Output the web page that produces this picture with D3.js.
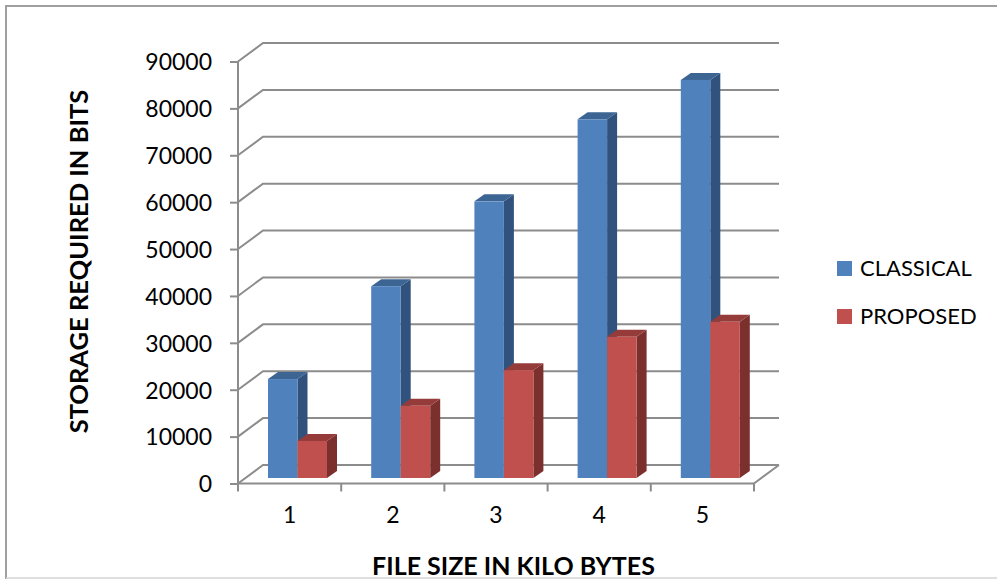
<!DOCTYPE html>
<html>
<head>
<meta charset="utf-8">
<script src="https://cdnjs.cloudflare.com/ajax/libs/d3/7.8.5/d3.min.js"></script>
<style>
body { margin: 0; background: #fff; }
text { font-family: Lato, "Open Sans", sans-serif; fill: #000; }
.axis path, .axis line { stroke: #8c8c8c; stroke-width: 2; }
.axis text { font-size: 23px; }
.grid { stroke: #8c8c8c; stroke-width: 2; fill: none; }
.axis-label { font-weight: bold; text-anchor: middle; }
.legend-label { font-size: 22px; }
</style>
</head>
<body>
<div id="chart"></div>
<script>
//Chart values
let categories = ['1', '2', '3', '4', '5'];
let series_names = ['CLASSICAL', 'PROPOSED'];
let classical = [21100, 40900, 59000, 76500, 84900];
let proposed = [7900, 15400, 23000, 30100, 33300];
let y_ticks = [0, 10000, 20000, 30000, 40000, 50000, 60000, 70000, 80000, 90000];

let width = 997, height = 579;
//Front corner of the floor and the oblique shift of the back wall
let plot = {left: 238, right: 754, bottom: 483.5, top: 61.5, depth_x: 25, depth_y: -18.5};
//Where the bars stand in the floor depth, and the shift of their own side face
let bar_floor = -5.5;
let bar_depth = {x: 10, y: -7};
let colors = {
    CLASSICAL: {front: '#4f81bd', side: '#31527c', top: '#3d6594'},
    PROPOSED: {front: '#c0504d', side: '#7b302e', top: '#953c3a'}
};

let svg = d3.select('#chart').append('svg').attr('width', width).attr('height', height)
    .style('display', 'block');

//Outer frame of the chart area, it runs off the right side of the picture
svg.append('path').attr('d', 'M' + width + ',6H6V' + height).attr('fill', 'none')
    .attr('stroke', '#a0a0a0').attr('stroke-width', 2);
svg.append('line').attr('x1', 6).attr('x2', width).attr('y1', 578).attr('y2', 578)
    .attr('stroke', '#d4d4d4').attr('stroke-width', 1.5);

let x = d3.scaleBand().domain(categories).range([plot.left, plot.right]);
let y = d3.scaleLinear().domain([0, 90000]).range([plot.bottom, plot.top]);
//Bars take a part of each category band
let x_inner = d3.scaleBand().domain(series_names).range([30, 89]);

//Back wall gridlines plus the oblique piece down to the front axis
y_ticks.forEach(t => {
    svg.append('path').attr('class', 'grid').attr('d', d3.line()([
        [plot.left, y(t)],
        [plot.left + plot.depth_x, y(t) + plot.depth_y],
        [plot.right + plot.depth_x, y(t) + plot.depth_y]
    ]));
});
//Right edge of the floor
svg.append('path').attr('class', 'grid').attr('d', d3.line()([
    [plot.right, y(0)],
    [plot.right + plot.depth_x, y(0) + plot.depth_y]
]));

svg.append('g').attr('class', 'axis').attr('transform', 'translate(' + plot.left + ',0)')
    .call(d3.axisLeft(y).tickValues(y_ticks).tickFormat(d3.format('d')).tickSize(8).tickPadding(18))
    .call(g => g.select('.domain').attr('d', 'M0,' + y(90000) + 'V' + y(0)))
    .call(g => g.selectAll('.tick text').attr('dy', '0.36em'));

svg.append('g').attr('class', 'axis').attr('transform', 'translate(0,' + plot.bottom + ')')
    .call(d3.axisBottom(x).tickSize(0).tickPadding(23))
    .call(g => g.select('.domain').attr('d', 'M' + plot.left + ',0H' + plot.right))
    .call(g => g.selectAll('.tick line').remove());

//Tick marks sit between the categories
svg.selectAll('.x-tick').data(categories.concat(['end'])).enter().append('line')
    .attr('class', 'x-tick')
    .attr('x1', (d, i) => plot.left + i * x.step())
    .attr('x2', (d, i) => plot.left + i * x.step())
    .attr('y1', plot.bottom).attr('y2', plot.bottom + 8)
    .attr('stroke', '#8c8c8c').attr('stroke-width', 2);

//Draw the bars: classical first so that the proposed front face covers its side
let bar_data = [];
series_names.forEach((s, si) => {
    let values = si === 0 ? classical : proposed;
    categories.forEach((c, i) => bar_data.push({series: s, category: c, value: values[i]}));
});
let bars = svg.selectAll('.bar').data(bar_data).enter().append('g').attr('class', 'bar')
    .attr('transform', d => 'translate(' + (x(d.category) + x_inner(d.series)) + ',' + bar_floor + ')');
bars.append('path').attr('fill', d => colors[d.series].side).attr('d', d => {
    let w = x_inner.bandwidth();
    return d3.line()([[w, y(d.value)], [w + bar_depth.x, y(d.value) + bar_depth.y],
        [w + bar_depth.x, y(0) + bar_depth.y], [w, y(0)]]) + 'Z';
});
bars.append('path').attr('fill', d => colors[d.series].top).attr('d', d => {
    let w = x_inner.bandwidth();
    return d3.line()([[0, y(d.value)], [bar_depth.x, y(d.value) + bar_depth.y],
        [w + bar_depth.x, y(d.value) + bar_depth.y], [w, y(d.value)]]) + 'Z';
});
bars.append('rect').attr('fill', d => colors[d.series].front)
    .attr('y', d => y(d.value)).attr('width', x_inner.bandwidth())
    .attr('height', d => y(0) - y(d.value));

//Axis titles
svg.append('text').attr('class', 'axis-label').attr('x', 513.5).attr('y', 575)
    .style('font-size', '25px').text('FILE SIZE IN KILO BYTES');
svg.append('text').attr('class', 'axis-label').attr('transform', 'translate(88,261.5) rotate(-90)')
    .style('font-size', '25.5px').text('STORAGE REQUIRED IN BITS');

//Legend
let legend = svg.selectAll('.legend').data(series_names).enter().append('g').attr('class', 'legend')
    .attr('transform', (d, i) => 'translate(837,' + (261 + i * 48) + ')');
legend.append('rect').attr('width', 15).attr('height', 15).attr('fill', d => colors[d].front);
legend.append('text').attr('class', 'legend-label').attr('x', 23).attr('y', 15).text(d => d);
</script>
</body>
</html>
